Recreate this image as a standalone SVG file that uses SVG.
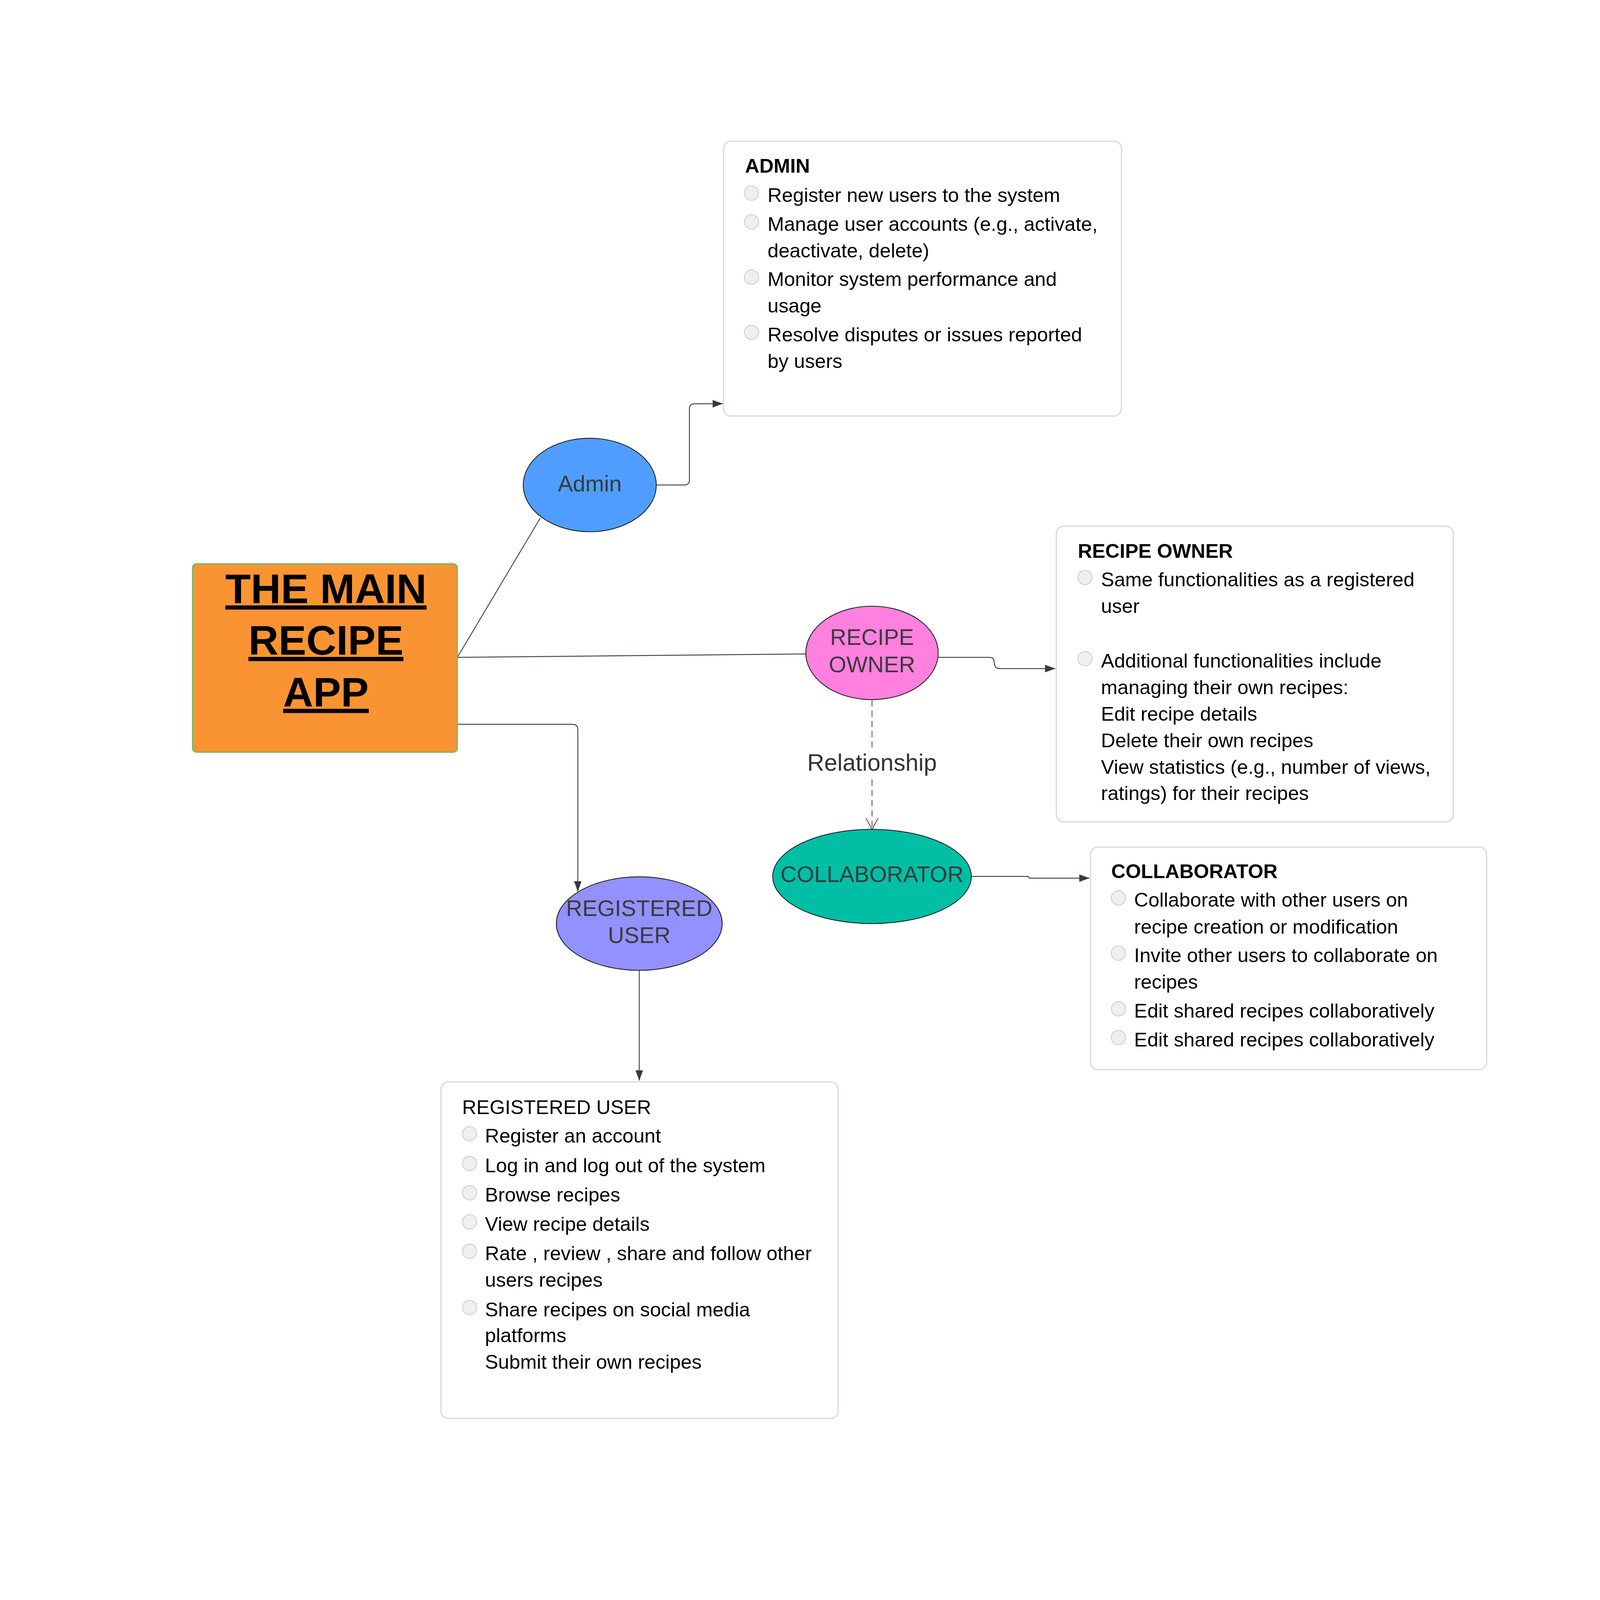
<svg xmlns="http://www.w3.org/2000/svg" width="4688" height="4688" viewBox="0 0 4688 4688">
<defs>
<style>
svg:root{width:100vw;height:100vh}
.conn{fill:none;stroke:#333a42;stroke-width:2.5}
.dash{fill:none;stroke:#555;stroke-width:2.5;stroke-dasharray:18,12}
.card{fill:#fff;stroke:#d9dce1;stroke-width:4}
.node{stroke:#222;stroke-width:2.5}
.nl{font-family:"Liberation Sans",Arial,sans-serif;font-size:66px;fill:#3a3a3a;text-anchor:middle}
.t{font-family:"Liberation Sans",Arial,sans-serif;font-size:58px;fill:#000}
.tb{font-family:"Liberation Sans",Arial,sans-serif;font-size:58px;fill:#000;font-weight:bold}
.title{font-family:"Liberation Sans",Arial,sans-serif;font-size:122px;font-weight:bold;fill:#000;text-anchor:middle;text-decoration:underline}
.bul{fill:#eeeff2;stroke:#c4c4c4;stroke-width:2}
</style>
<marker id="arr" markerUnits="userSpaceOnUse" markerWidth="32" markerHeight="24" refX="30" refY="11" orient="auto">
<path d="M0,0 L30,11 L0,22 z" fill="#333a42"/>
</marker>
</defs>
<rect width="4688" height="4688" fill="#fff"/>

<g id="connectors">
<line class="conn" x1="1340" y1="1926" x2="1583" y2="1518"/>
<line class="conn" x1="1340" y1="1926" x2="2361" y2="1916"/>
<path class="conn" d="M1340,2122 H1677 Q1693,2122 1693,2138 V2612" marker-end="url(#arr)"/>
<path class="conn" d="M1924,1421 H2005 Q2020,1421 2020,1406 V1198 Q2020,1183 2035,1183 H2118" marker-end="url(#arr)"/>
<path class="conn" d="M2749,1926 H2900 Q2912,1926 2913,1940 L2914,1946 Q2916,1959 2928,1959 H3092" marker-end="url(#arr)"/>
<path class="conn" d="M2845,2568 H3012 L3016,2573 H3192" marker-end="url(#arr)"/>
<path class="conn" d="M1873,2843 V3166" marker-end="url(#arr)"/>
<line class="dash" x1="2555" y1="2052" x2="2555" y2="2200"/>
<line class="dash" x1="2555" y1="2284" x2="2555" y2="2428"/>
<path class="conn" style="stroke:#555" d="M2537,2397 L2555,2430 L2573,2397"/>
<text x="2555" y="2258" font-family="Liberation Sans, Arial, sans-serif" font-size="69" fill="#333" text-anchor="middle">Relationship</text>
</g>

<g id="main">
<rect x="564" y="1652" width="776" height="552" rx="12" fill="#FA9433" stroke="#5DBB63" stroke-width="3"/>
<text class="title" x="955" y="1767">THE MAIN</text>
<text class="title" x="955" y="1918">RECIPE</text>
<text class="title" x="955" y="2070">APP</text>
</g>

<g id="admin">
<ellipse class="node" cx="1728" cy="1421" rx="195" ry="137" fill="#4F9EFF"/>
<text class="nl" x="1728" y="1440">Admin</text>
</g>

<g id="recipe-owner">
<ellipse class="node" cx="2555" cy="1913" rx="194" ry="137" fill="#FF80DF"/>
<text class="nl" x="2555" y="1890">RECIPE</text>
<text class="nl" x="2555" y="1970">OWNER</text>
</g>

<g id="collaborator">
<ellipse class="node" cx="2555" cy="2568" rx="291" ry="138" fill="#00BFA5"/>
<text class="nl" x="2555" y="2584">COLLABORATOR</text>
</g>

<g id="registered-user">
<ellipse class="node" cx="1873" cy="2706" rx="243" ry="137" fill="#9391FF"/>
<text class="nl" x="1873" y="2684">REGISTERED</text>
<text class="nl" x="1873" y="2763">USER</text>
</g>

<g id="admin-card">
<rect class="card" x="2120" y="414" width="1166" height="805" rx="22"/>
<text class="tb" x="2183" y="506">ADMIN</text>
<circle class="bul" cx="2202" cy="566" r="21"/>
<circle class="bul" cx="2202" cy="650" r="21"/>
<circle class="bul" cx="2202" cy="812" r="21"/>
<circle class="bul" cx="2202" cy="974" r="21"/>
<text class="t" x="2249" y="592">Register new users to the system</text>
<text class="t" x="2249" y="676">Manage user accounts (e.g., activate,</text>
<text class="t" x="2249" y="754">deactivate, delete)</text>
<text class="t" x="2249" y="838">Monitor system performance and</text>
<text class="t" x="2249" y="916">usage</text>
<text class="t" x="2249" y="1000">Resolve disputes or issues reported</text>
<text class="t" x="2249" y="1078">by users</text>
</g>

<g id="recipe-owner-card">
<rect class="card" x="3095" y="1542" width="1163" height="866" rx="22"/>
<text class="tb" x="3158" y="1634">RECIPE OWNER</text>
<circle class="bul" cx="3179" cy="1692" r="21"/>
<circle class="bul" cx="3179" cy="1930" r="21"/>
<text class="t" x="3226" y="1718">Same functionalities as a registered</text>
<text class="t" x="3226" y="1796">user</text>
<text class="t" x="3226" y="1956">Additional functionalities include</text>
<text class="t" x="3226" y="2034">managing their own recipes:</text>
<text class="t" x="3226" y="2112">Edit recipe details</text>
<text class="t" x="3226" y="2190">Delete their own recipes</text>
<text class="t" x="3226" y="2267">View statistics (e.g., number of views,</text>
<text class="t" x="3226" y="2344">ratings) for their recipes</text>
</g>

<g id="collaborator-card">
<rect class="card" x="3195" y="2482" width="1161" height="652" rx="22"/>
<text class="tb" x="3256" y="2573">COLLABORATOR</text>
<circle class="bul" cx="3277" cy="2631" r="21"/>
<circle class="bul" cx="3277" cy="2793" r="21"/>
<circle class="bul" cx="3277" cy="2956" r="21"/>
<circle class="bul" cx="3277" cy="3040" r="21"/>
<text class="t" x="3323" y="2657">Collaborate with other users on</text>
<text class="t" x="3323" y="2735">recipe creation or modification</text>
<text class="t" x="3323" y="2819">Invite other users to collaborate on</text>
<text class="t" x="3323" y="2897">recipes</text>
<text class="t" x="3323" y="2982">Edit shared recipes collaboratively</text>
<text class="t" x="3323" y="3066">Edit shared recipes collaboratively</text>
</g>

<g id="registered-user-card">
<rect class="card" x="1292" y="3170" width="1164" height="986" rx="22"/>
<text class="t" x="1354" y="3264">REGISTERED USER</text>
<circle class="bul" cx="1376" cy="3322" r="21"/>
<circle class="bul" cx="1376" cy="3409" r="21"/>
<circle class="bul" cx="1376" cy="3495" r="21"/>
<circle class="bul" cx="1376" cy="3580" r="21"/>
<circle class="bul" cx="1376" cy="3666" r="21"/>
<circle class="bul" cx="1376" cy="3831" r="21"/>
<text class="t" x="1421" y="3348">Register an account</text>
<text class="t" x="1421" y="3435">Log in and log out of the system</text>
<text class="t" x="1421" y="3521">Browse recipes</text>
<text class="t" x="1421" y="3606">View recipe details</text>
<text class="t" x="1421" y="3692">Rate , review , share and follow other</text>
<text class="t" x="1421" y="3770">users recipes</text>
<text class="t" x="1421" y="3857">Share recipes on social media</text>
<text class="t" x="1421" y="3933">platforms</text>
<text class="t" x="1421" y="4011">Submit their own recipes</text>
</g>
</svg>
